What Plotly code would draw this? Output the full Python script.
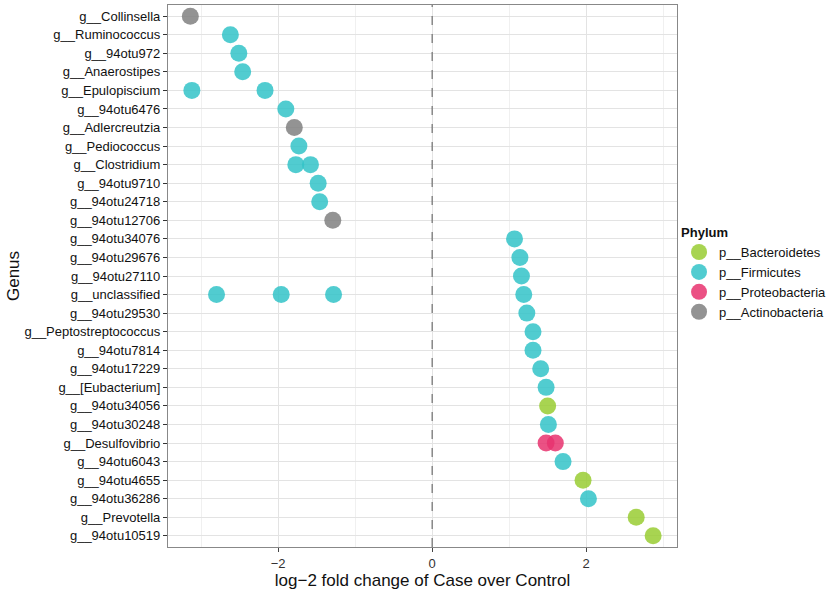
#!/usr/bin/env python
import plotly.graph_objects as go

# genus order, top to bottom
genera = ["g__Collinsella", "g__Ruminococcus", "g__94otu972", "g__Anaerostipes",
          "g__Epulopiscium", "g__94otu6476", "g__Adlercreutzia", "g__Pediococcus",
          "g__Clostridium", "g__94otu9710", "g__94otu24718", "g__94otu12706",
          "g__94otu34076", "g__94otu29676", "g__94otu27110", "g__unclassified",
          "g__94otu29530", "g__Peptostreptococcus", "g__94otu7814", "g__94otu17229",
          "g__[Eubacterium]", "g__94otu34056", "g__94otu30248", "g__Desulfovibrio",
          "g__94otu6043", "g__94otu4655", "g__94otu36286", "g__Prevotella",
          "g__94otu10519"]

# one entry per point
point_genus = ["g__Collinsella", "g__Ruminococcus", "g__94otu972", "g__Anaerostipes",
               "g__Epulopiscium", "g__Epulopiscium", "g__94otu6476", "g__Adlercreutzia",
               "g__Pediococcus", "g__Clostridium", "g__Clostridium", "g__94otu9710",
               "g__94otu24718", "g__94otu12706", "g__94otu34076", "g__94otu29676",
               "g__94otu27110", "g__unclassified", "g__unclassified", "g__unclassified",
               "g__unclassified", "g__94otu29530", "g__Peptostreptococcus", "g__94otu7814",
               "g__94otu17229", "g__[Eubacterium]", "g__94otu34056", "g__94otu30248",
               "g__Desulfovibrio", "g__Desulfovibrio", "g__94otu6043", "g__94otu4655",
               "g__94otu36286", "g__Prevotella", "g__94otu10519"]
point_lfc = [-3.14, -2.62, -2.51, -2.46,
             -3.12, -2.17, -1.90, -1.79,
             -1.73, -1.77, -1.58, -1.48,
             -1.46, -1.29, 1.07, 1.14,
             1.16, -2.80, -1.96, -1.28,
             1.19, 1.23, 1.31, 1.31,
             1.41, 1.48, 1.50, 1.51,
             1.48, 1.60, 1.70, 1.96,
             2.03, 2.65, 2.87]
point_phylum = ["p__Actinobacteria", "p__Firmicutes", "p__Firmicutes", "p__Firmicutes",
                "p__Firmicutes", "p__Firmicutes", "p__Firmicutes", "p__Actinobacteria",
                "p__Firmicutes", "p__Firmicutes", "p__Firmicutes", "p__Firmicutes",
                "p__Firmicutes", "p__Actinobacteria", "p__Firmicutes", "p__Firmicutes",
                "p__Firmicutes", "p__Firmicutes", "p__Firmicutes", "p__Firmicutes",
                "p__Firmicutes", "p__Firmicutes", "p__Firmicutes", "p__Firmicutes",
                "p__Firmicutes", "p__Firmicutes", "p__Bacteroidetes", "p__Firmicutes",
                "p__Proteobacteria", "p__Proteobacteria", "p__Firmicutes", "p__Bacteroidetes",
                "p__Firmicutes", "p__Bacteroidetes", "p__Bacteroidetes"]

phyla = ["p__Bacteroidetes", "p__Firmicutes", "p__Proteobacteria", "p__Actinobacteria"]
phylum_colors = ["#99CC33", "#33C3C8", "#E8336E", "#808080"]

fig = go.Figure()
for ph, col in zip(phyla, phylum_colors):
    idx = [i for i, p in enumerate(point_phylum) if p == ph]
    fig.add_trace(go.Scatter(
        x=[point_lfc[i] for i in idx],
        y=[point_genus[i] for i in idx],
        mode="markers", name=ph,
        marker=dict(size=17, color=col, opacity=0.85, line=dict(width=0)),
    ))

# dashed reference line at zero
fig.add_vline(x=0, line=dict(color="#555555", width=1, dash="dash"))

font = "Liberation Sans, Arial, sans-serif"
fig.update_layout(
    width=829, height=590,
    margin=dict(l=168, r=152, t=5, b=43, autoexpand=False),
    plot_bgcolor="white", paper_bgcolor="white",
    font=dict(family=font, size=12, color="#222222"),
    legend=dict(
        title=dict(text="<b>Phylum</b>", font=dict(size=13, color="#111111")),
        x=1.004, y=0.603, xanchor="left", yanchor="top",
        bgcolor="rgba(0,0,0,0)",
        font=dict(size=13, color="#111111"),
        itemsizing="trace", tracegroupgap=0,
    ),
    xaxis=dict(
        range=[-3.43, 3.18], tick0=0, dtick=2,
        showgrid=True, gridcolor="#E3E3E3", gridwidth=1,
        minor=dict(dtick=1, showgrid=True, gridcolor="#F0F0F0"),
        zeroline=False,
        showline=True, linecolor="#888888", mirror=True, linewidth=1.2,
        ticks="outside", ticklen=4, tickcolor="#444444",
        tickfont=dict(size=13, color="#333333"),
        title=dict(text="log\u22122 fold change of Case over Control",
                   font=dict(size=17, color="#111111"), standoff=0),
    ),
    yaxis=dict(
        type="category", categoryorder="array", categoryarray=genera,
        range=[28.6, -0.6],
        showgrid=True, gridcolor="#E3E3E3", gridwidth=1,
        showline=True, linecolor="#888888", mirror=True, linewidth=1.2,
        ticks="outside", ticklen=4, tickcolor="#333333",
        tickfont=dict(size=13, color="#111111"),
        title=dict(text="Genus", font=dict(size=17, color="#111111"), standoff=0),
    ),
)

# drop the default page margin so the figure sits at the window's corner
fig.write_html("out.html", config={"displayModeBar": False},
               post_script="document.body.style.margin='0px';")
